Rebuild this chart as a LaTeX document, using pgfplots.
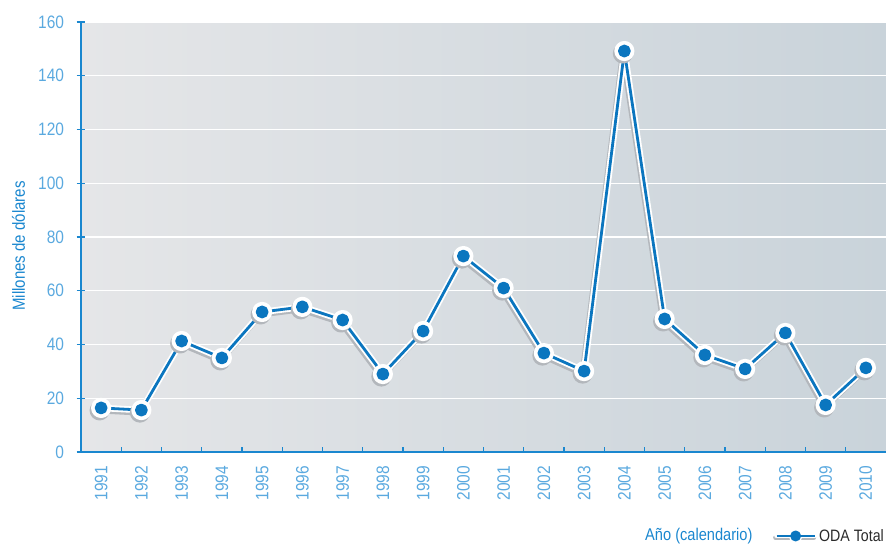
\documentclass[border=0pt]{standalone}
\usepackage{fontspec}
\setmainfont[FakeStretch=0.86]{Liberation Sans}
\usepackage{pgfplots}
\usepackage{pgfplotstable}
\pgfplotsset{compat=1.18}
\definecolor{axblue}{HTML}{1A87CF}
\definecolor{tickblue}{HTML}{5AA9DF}
\definecolor{lineblue}{HTML}{0B76BF}
\definecolor{shadowgray}{HTML}{B3B7BC}
\definecolor{bgleft}{HTML}{E5E6E8}
\definecolor{bgright}{HTML}{C9D3DA}
\definecolor{legtext}{HTML}{2A2A2A}

\pgfplotstableread{
year val
1991 16.4
1992 15.6
1993 41.3
1994 35.0
1995 52.1
1996 54.0
1997 49.1
1998 29.0
1999 45.0
2000 72.9
2001 61.0
2002 36.8
2003 30.1
2004 149.2
2005 49.5
2006 36.1
2007 30.9
2008 44.3
2009 17.5
2010 31.3
}\odadata

\begin{document}
\begin{tikzpicture}
\useasboundingbox (-81pt,-94pt) rectangle (805pt,452pt);
\begin{axis}[
  at={(0,0)}, anchor=south west,
  scale only axis, width=805pt, height=430pt,
  xmin=1990.5, xmax=2010.5, ymin=0, ymax=160,
  axis x line*=bottom, axis y line*=left,
  axis line style={axblue, line width=1.5pt, -},
  axis background/.style={left color=bgleft, right color=bgright},
  ytick={0,20,...,160},
  ymajorgrids, grid style={white, line width=1.2pt},
  xtick={1991,...,2010},
  minor xtick={1991.5,1992.5,...,2009.5},
  tick align=center,
  major tick length=9pt, minor tick length=5pt,
  major x tick style={draw=none},
  major y tick style={axblue, line width=1.2pt},
  minor x tick style={axblue, line width=1.2pt, yshift=2.5pt},
  /pgf/number format/assume math mode=true,
  /pgf/number format/1000 sep={},
  yticklabel style={font=\fontsize{18}{18}\selectfont, text=tickblue, xshift=-9pt},
  xticklabel style={font=\fontsize{18}{18}\selectfont, text=tickblue, rotate=90, anchor=east, xshift=-6pt},
  xlabel={Año (calendario)},
  xlabel style={at={(axis description cs:0.8385,-0.1953)}, anchor=east, text=axblue, font=\fontsize{17}{17}\selectfont},
  ylabel={Millones de dólares},
  ylabel style={at={(axis description cs:-0.0776,0.479)}, anchor=center, text=axblue, font=\fontsize{17.5}{17.5}\selectfont},
  legend style={at={(1,-0.1953)}, anchor=east, draw=none, fill=none, font=\fontsize{16.5}{16.5}\selectfont, text=legtext, inner sep=0pt},
  legend cell align=left,
]
\addplot[forget plot, shadowgray, line width=6pt, line join=round, xshift=-1.5pt, yshift=-2.5pt,
  mark=*, mark size=7pt, mark options={draw=none, fill=shadowgray}] table[x=year,y=val]{\odadata};
\addplot[forget plot, white, line width=6.5pt, line join=round,
  mark=*, mark size=6.8pt, mark options={draw=none, fill=white}] table[x=year,y=val]{\odadata};
\addplot[lineblue, line width=2.8pt, line join=round,
  mark=*, mark size=5pt, mark options={draw=none, fill=lineblue},
  legend image code/.code={
    \draw[shadowgray, line width=5pt, line cap=round] (-1pt,-2pt) -- (37pt,-2pt);
    \draw[white, line width=5pt, line cap=round] (0pt,0pt) -- (38pt,0pt);
    \fill[white] (19pt,0pt) circle (5.5pt);
    \draw[lineblue, line width=2.5pt] (0pt,0pt) -- (38pt,0pt);
    \fill[lineblue] (19pt,0pt) circle (4pt);
  }] table[x=year,y=val]{\odadata};
\addlegendentry{ODA Total}
\end{axis}
\end{tikzpicture}
\end{document}
